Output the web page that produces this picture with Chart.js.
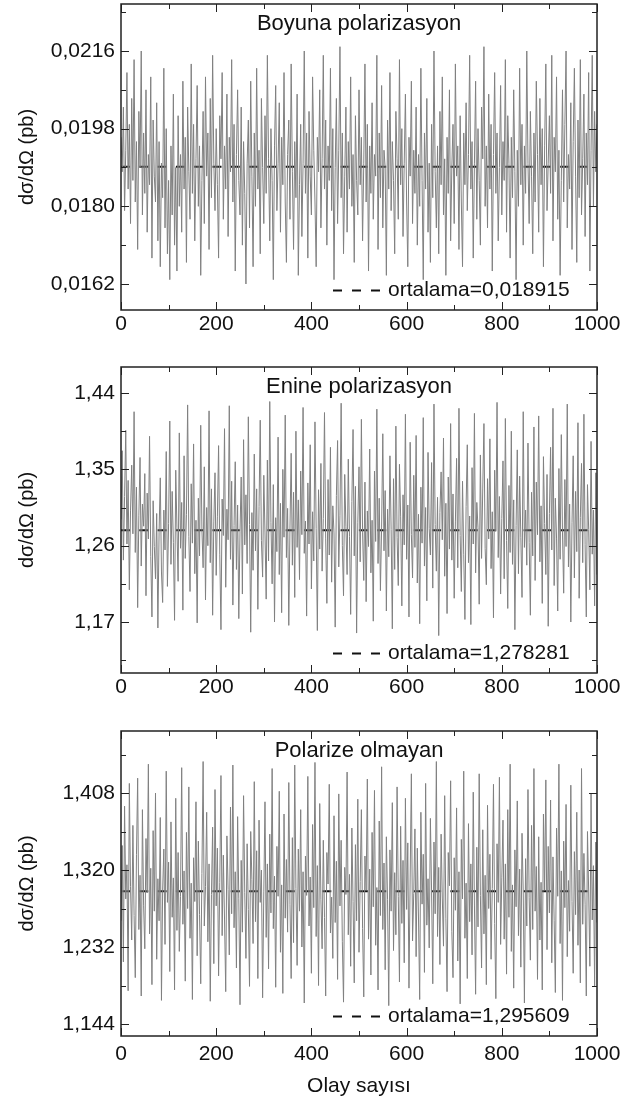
<!DOCTYPE html>
<html>
<head>
<meta charset="utf-8">
<script src="https://cdn.jsdelivr.net/npm/chart.js@4.4.1/dist/chart.umd.min.js"></script>
<style>
  body { margin: 0; background: #fff; width: 622px; height: 1106px; position: relative; overflow: hidden; }
  canvas { position: absolute; left: 0; }
</style>
</head>
<body>
<canvas id="c1" width="622" height="345" style="top:0px"></canvas>
<canvas id="c2" width="622" height="355" style="top:350px"></canvas>
<canvas id="c3" width="622" height="393" style="top:713px"></canvas>
<script>
// olay sayisi adimi (0..1000)
const step = 2.5;

const boyuna = [
  0.0196,0.0188,0.0203,0.0179,0.0193,0.0211,0.0184,0.0199,0.0176,0.0205,
  0.0186,0.0214,0.0181,0.0195,0.0170,0.0202,0.0189,0.0216,0.0178,0.0197,
  0.0183,0.0207,0.0174,0.0192,0.0185,0.0210,0.0168,0.0200,0.0187,0.0181,
  0.0204,0.0172,0.0195,0.0166,0.0190,0.0182,0.0212,0.0175,0.0198,0.0169,
  0.0186,0.0163,0.0194,0.0178,0.0206,0.0171,0.0189,0.0165,0.0201,0.0180,
  0.0192,0.0174,0.0209,0.0184,0.0196,0.0167,0.0203,0.0188,0.0177,0.0213,
  0.0183,0.0199,0.0172,0.0191,0.0208,0.0180,0.0194,0.0164,0.0186,0.0202,
  0.0176,0.0210,0.0187,0.0197,0.0170,0.0205,0.0182,0.0215,0.0190,0.0179,
  0.0198,0.0185,0.0168,0.0201,0.0191,0.0211,0.0177,0.0194,0.0184,0.0206,
  0.0173,0.0196,0.0188,0.0214,0.0181,0.0199,0.0165,0.0192,0.0207,0.0186,
  0.0178,0.0203,0.0171,0.0195,0.0183,0.0162,0.0190,0.0200,0.0175,0.0209,
  0.0187,0.0166,0.0197,0.0180,0.0212,0.0184,0.0193,0.0169,0.0205,0.0189,
  0.0176,0.0201,0.0183,0.0215,0.0191,0.0172,0.0198,0.0186,0.0163,0.0194,
  0.0208,0.0179,0.0190,0.0204,0.0174,0.0196,0.0185,0.0211,0.0181,0.0167,
  0.0192,0.0200,0.0177,0.0213,0.0188,0.0170,0.0195,0.0182,0.0206,0.0164,
  0.0185,0.0199,0.0173,0.0190,0.0216,0.0183,0.0197,0.0168,0.0202,0.0187,
  0.0178,0.0210,0.0193,0.0181,0.0166,0.0196,0.0188,0.0207,0.0175,0.0191,
  0.0215,0.0184,0.0200,0.0171,0.0194,0.0186,0.0212,0.0179,0.0198,0.0163,
  0.0189,0.0205,0.0176,0.0193,0.0217,0.0182,0.0197,0.0169,0.0187,0.0203,
  0.0174,0.0195,0.0184,0.0210,0.0180,0.0192,0.0167,0.0201,0.0186,0.0178,
  0.0207,0.0185,0.0196,0.0172,0.0190,0.0213,0.0181,0.0199,0.0165,0.0194,
  0.0183,0.0204,0.0177,0.0192,0.0187,0.0215,0.0170,0.0197,0.0182,0.0208,
  0.0175,0.0193,0.0189,0.0164,0.0200,0.0184,0.0211,0.0179,0.0195,0.0186,
  0.0169,0.0202,0.0191,0.0177,0.0214,0.0185,0.0198,0.0173,0.0190,0.0206,
  0.0181,0.0166,0.0196,0.0187,0.0209,0.0176,0.0193,0.0183,0.0203,0.0171,
  0.0192,0.0180,0.0212,0.0186,0.0163,0.0197,0.0184,0.0205,0.0174,0.0190,
  0.0167,0.0199,0.0182,0.0216,0.0188,0.0175,0.0194,0.0169,0.0202,0.0185,
  0.0210,0.0178,0.0191,0.0164,0.0196,0.0183,0.0207,0.0172,0.0189,0.0199,
  0.0176,0.0213,0.0187,0.0194,0.0170,0.0201,0.0181,0.0166,0.0197,0.0185,
  0.0204,0.0179,0.0192,0.0215,0.0184,0.0195,0.0168,0.0190,0.0209,0.0177,
  0.0198,0.0186,0.0171,0.0203,0.0191,0.0217,0.0180,0.0194,0.0175,0.0206,
  0.0184,0.0199,0.0165,0.0192,0.0211,0.0183,0.0197,0.0172,0.0189,0.0208,
  0.0178,0.0195,0.0186,0.0214,0.0174,0.0201,0.0190,0.0168,0.0196,0.0182,
  0.0207,0.0188,0.0163,0.0193,0.0180,0.0212,0.0185,0.0199,0.0171,0.0194,
  0.0183,0.0216,0.0190,0.0176,0.0202,0.0187,0.0169,0.0197,0.0181,0.0209,
  0.0192,0.0174,0.0205,0.0185,0.0198,0.0166,0.0194,0.0213,0.0179,0.0190,
  0.0201,0.0183,0.0215,0.0172,0.0196,0.0188,0.0210,0.0177,0.0193,0.0164,
  0.0186,0.0207,0.0181,0.0199,0.0216,0.0175,0.0192,0.0184,0.0204,0.0170,
  0.0195,0.0212,0.0187,0.0167,0.0200,0.0182,0.0214,0.0178,0.0191,0.0206,
  0.0173,0.0197,0.0185,0.0211,0.0165,0.0193,0.0215,0.0180,0.0202,0.0188,
  0.0199
];

const enine = [
  1.291,1.372,1.243,1.318,1.396,1.262,1.337,1.208,1.301,1.355,
  1.274,1.418,1.252,1.329,1.187,1.296,1.364,1.236,1.309,1.283,
  1.345,1.201,1.322,1.268,1.389,1.247,1.176,1.313,1.259,1.221,
  1.298,1.163,1.276,1.340,1.229,1.193,1.302,1.255,1.371,1.212,
  1.286,1.407,1.238,1.324,1.264,1.172,1.349,1.281,1.218,1.393,
  1.257,1.311,1.184,1.366,1.245,1.297,1.426,1.271,1.206,1.333,
  1.263,1.380,1.227,1.290,1.169,1.316,1.248,1.402,1.279,1.234,
  1.353,1.196,1.305,1.260,1.419,1.240,1.327,1.178,1.288,1.346,
  1.225,1.294,1.378,1.250,1.161,1.315,1.272,1.398,1.211,1.303,
  1.267,1.425,1.244,1.336,1.190,1.284,1.359,1.232,1.308,1.174,
  1.277,1.341,1.203,1.385,1.261,1.320,1.239,1.412,1.285,1.158,
  1.299,1.231,1.368,1.254,1.327,1.185,1.306,1.408,1.266,1.223,
  1.343,1.275,1.197,1.361,1.242,1.430,1.287,1.215,1.332,1.170,
  1.293,1.253,1.388,1.226,1.310,1.181,1.350,1.270,1.414,1.246,
  1.304,1.166,1.282,1.369,1.237,1.323,1.199,1.395,1.258,1.314,
  1.220,1.348,1.273,1.423,1.251,1.289,1.177,1.334,1.262,1.379,
  1.209,1.300,1.242,1.406,1.280,1.160,1.326,1.256,1.357,1.230,
  1.292,1.417,1.268,1.192,1.338,1.249,1.376,1.217,1.307,1.275,
  1.164,1.319,1.384,1.235,1.296,1.428,1.260,1.201,1.344,1.283,
  1.226,1.362,1.271,1.179,1.312,1.397,1.248,1.330,1.157,1.287,
  1.353,1.241,1.409,1.276,1.219,1.335,1.194,1.301,1.259,1.374,
  1.228,1.290,1.171,1.348,1.265,1.421,1.239,1.316,1.207,1.282,
  1.392,1.254,1.325,1.183,1.303,1.247,1.366,1.279,1.162,1.339,
  1.232,1.401,1.270,1.213,1.356,1.294,1.189,1.320,1.261,1.415,
  1.244,1.308,1.176,1.382,1.273,1.222,1.343,1.258,1.390,1.216,
  1.297,1.168,1.329,1.263,1.411,1.236,1.305,1.195,1.370,1.280,
  1.249,1.358,1.210,1.427,1.285,1.230,1.317,1.154,1.299,1.347,
  1.267,1.387,1.224,1.310,1.180,1.341,1.256,1.404,1.243,1.321,
  1.198,1.288,1.363,1.234,1.422,1.272,1.206,1.336,1.250,1.173,
  1.306,1.379,1.240,1.295,1.167,1.352,1.262,1.416,1.228,1.311,
  1.281,1.191,1.367,1.245,1.328,1.404,1.257,1.214,1.339,1.268,
  1.386,1.233,1.300,1.175,1.349,1.277,1.429,1.246,1.318,1.203,
  1.292,1.360,1.221,1.410,1.266,1.186,1.331,1.252,1.395,1.238,
  1.314,1.161,1.284,1.373,1.227,1.342,1.270,1.199,1.418,1.258,
  1.302,1.237,1.381,1.264,1.178,1.323,1.248,1.400,1.219,1.335,
  1.273,1.413,1.241,1.307,1.192,1.365,1.286,1.226,1.344,1.165,
  1.298,1.376,1.255,1.422,1.213,1.316,1.269,1.183,1.351,1.244,
  1.391,1.275,1.204,1.338,1.259,1.427,1.235,1.309,1.170,1.287,
  1.366,1.222,1.324,1.253,1.405,1.198,1.293,1.357,1.240,1.415,
  1.261,1.176,1.332,1.279,1.208,1.383,1.250,1.302,1.189,1.346,
  1.226
];

const polarizeOlmayan = [
  1.262,1.348,1.215,1.393,1.287,1.326,1.182,1.419,1.301,1.240,
  1.371,1.268,1.197,1.338,1.425,1.252,1.314,1.176,1.389,1.279,
  1.230,1.356,1.294,1.441,1.247,1.322,1.189,1.365,1.273,1.408,
  1.218,1.310,1.262,1.380,1.171,1.297,1.344,1.235,1.433,1.283,
  1.329,1.204,1.375,1.266,1.311,1.183,1.402,1.251,1.340,1.227,
  1.290,1.437,1.258,1.319,1.193,1.363,1.276,1.415,1.242,1.305,
  1.172,1.334,1.284,1.398,1.222,1.353,1.269,1.190,1.316,1.444,
  1.256,1.301,1.386,1.238,1.327,1.170,1.292,1.369,1.213,1.412,
  1.279,1.345,1.199,1.306,1.428,1.245,1.337,1.264,1.181,1.359,
  1.298,1.223,1.392,1.270,1.440,1.254,1.318,1.208,1.381,1.287,
  1.166,1.331,1.249,1.405,1.294,1.219,1.350,1.275,1.187,1.364,
  1.309,1.236,1.421,1.261,1.342,1.196,1.377,1.283,1.320,1.174,
  1.295,1.398,1.243,1.327,1.207,1.361,1.271,1.436,1.253,1.313,
  1.186,1.347,1.290,1.410,1.226,1.303,1.179,1.384,1.265,1.332,
  1.249,1.420,1.281,1.196,1.357,1.237,1.440,1.299,1.211,1.344,
  1.273,1.389,1.232,1.318,1.168,1.336,1.291,1.427,1.256,1.312,
  1.202,1.372,1.277,1.443,1.244,1.325,1.188,1.396,1.286,1.230,
  1.354,1.266,1.176,1.340,1.304,1.418,1.248,1.289,1.219,1.382,
  1.260,1.330,1.195,1.407,1.279,1.354,1.238,1.169,1.323,1.292,
  1.432,1.246,1.315,1.210,1.368,1.284,1.191,1.349,1.262,1.401,
  1.226,1.307,1.389,1.253,1.175,1.336,1.297,1.424,1.241,1.321,
  1.200,1.363,1.278,1.411,1.234,1.300,1.183,1.376,1.268,1.438,
  1.252,1.328,1.206,1.358,1.286,1.165,1.343,1.273,1.397,1.228,
  1.317,1.246,1.415,1.290,1.192,1.370,1.259,1.331,1.214,1.402,
  1.275,1.351,1.185,1.312,1.430,1.239,1.293,1.367,1.221,1.345,
  1.264,1.172,1.386,1.281,1.338,1.203,1.419,1.257,1.310,1.231,
  1.379,1.296,1.190,1.352,1.270,1.444,1.244,1.323,1.212,1.361,
  1.288,1.233,1.405,1.265,1.181,1.340,1.302,1.422,1.250,1.197,
  1.334,1.274,1.391,1.216,1.318,1.167,1.355,1.287,1.433,1.242,
  1.305,1.196,1.373,1.261,1.327,1.223,1.409,1.280,1.178,1.346,
  1.255,1.430,1.291,1.208,1.366,1.247,1.314,1.189,1.394,1.276,
  1.338,1.218,1.299,1.418,1.259,1.173,1.350,1.283,1.426,1.235,
  1.311,1.377,1.241,1.327,1.201,1.389,1.266,1.441,1.227,1.303,
  1.185,1.343,1.278,1.399,1.245,1.321,1.209,1.362,1.295,1.168,
  1.333,1.256,1.412,1.289,1.217,1.371,1.252,1.436,1.273,1.324,
  1.195,1.358,1.240,1.306,1.183,1.384,1.297,1.423,1.229,1.347,
  1.271,1.400,1.214,1.335,1.262,1.180,1.368,1.290,1.441,1.236,
  1.319,1.171,1.353,1.277,1.395,1.221,1.308,1.250,1.417,1.284,
  1.202,1.341,1.269,1.386,1.234,1.320,1.191,1.436,1.258,1.339,
  1.281,1.176,1.364,1.296,1.210,1.407,1.263,1.325,1.187,1.352,
  1.260
];

const ortalama = [0.018915, 1.278281, 1.295609];
const basliklar = ['Boyuna polarizasyon', 'Enine polarizasyon', 'Polarize olmayan'];

const xTicks = [0, 200, 400, 600, 800, 1000];
const xLabels = ['0', '200', '400', '600', '800', '1000'];
const xMinor = [100, 300, 500, 700, 900];

const yTicks1 = [0.0162, 0.0180, 0.0198, 0.0216];
const yLabels1 = ['0,0162', '0,0180', '0,0198', '0,0216'];
const yMinor1 = [0.0171, 0.0189, 0.0207, 0.0225];

const yTicks2 = [1.17, 1.26, 1.35, 1.44];
const yLabels2 = ['1,17', '1,26', '1,35', '1,44'];
const yMinor2 = [1.125, 1.215, 1.305, 1.395];

const yTicks3 = [1.144, 1.232, 1.320, 1.408];
const yLabels3 = ['1,144', '1,232', '1,320', '1,408'];
const yMinor3 = [1.188, 1.276, 1.364, 1.452];

const FONT = 'Liberation Sans, Arial, sans-serif';

const framePlugin = {
  id: 'frame',
  afterDatasetsDraw(chart, args, o) {
    const { ctx, chartArea: a, scales: { x, y } } = chart;
    ctx.save();
    ctx.strokeStyle = '#222';
    ctx.lineWidth = 1;
    const xt = (vals, len) => vals.forEach(v => {
      const px = Math.round(x.getPixelForValue(v)) + 0.5;
      ctx.beginPath();
      ctx.moveTo(px, a.bottom); ctx.lineTo(px, a.bottom - len);
      ctx.moveTo(px, a.top); ctx.lineTo(px, a.top + len);
      ctx.stroke();
    });
    const yt = (vals, len) => vals.forEach(v => {
      if (v > y.max || v < y.min) return;
      const py = Math.round(y.getPixelForValue(v)) + 0.5;
      ctx.beginPath();
      ctx.moveTo(a.left, py); ctx.lineTo(a.left + len, py);
      ctx.moveTo(a.right, py); ctx.lineTo(a.right - len, py);
      ctx.stroke();
    });
    xt(xTicks, 8); xt(xMinor, 5);
    yt(o.yMajor, 8); yt(o.yMinor, 5);
    ctx.lineWidth = 1.5;
    ctx.strokeRect(a.left, a.top, a.width, a.height);

    ctx.fillStyle = '#111';
    ctx.font = '22px ' + FONT;
    ctx.textAlign = 'center';
    ctx.textBaseline = 'middle';
    ctx.fillText(o.title, (a.left + a.right) / 2, a.top + 19.5);

    // lejant
    const ly = a.bottom - 19.5;
    ctx.font = '21px ' + FONT;
    ctx.lineWidth = 2;
    ctx.strokeStyle = '#111';
    ctx.setLineDash([9, 10]);
    ctx.beginPath();
    ctx.moveTo(a.right - 264, ly); ctx.lineTo(a.right - 216, ly);
    ctx.stroke();
    ctx.setLineDash([]);
    ctx.textAlign = 'left';
    ctx.fillText(o.legend, a.right - 209, ly);
    ctx.restore();
  }
};

function makeChart(id, values, mean, idx, yMin, yMax, yTicks, yLabels, yMinor, padTop, xHeight, xPad, xTitle) {
  const pts = values.map((v, i) => ({ x: i * step, y: v }));
  new Chart(document.getElementById(id), {
    type: 'line',
    data: {
      datasets: [
        {
          data: pts,
          borderColor: '#808080',
          borderWidth: 1,
          pointRadius: 0,
          tension: 0
        },
        {
          data: [{ x: 0, y: mean }, { x: 1000, y: mean }],
          borderColor: '#111',
          borderWidth: 2,
          borderDash: [9, 9.3],
          pointRadius: 0
        }
      ]
    },
    options: {
      responsive: false,
      animation: false,
      layout: { padding: { top: padTop, right: 25, left: 0, bottom: 0 } },
      plugins: {
        legend: { display: false },
        tooltip: { enabled: false },
        frame: {
          title: basliklar[idx],
          legend: 'ortalama=' + String(mean).replace('.', ','),
          yMajor: yTicks,
          yMinor: yMinor
        }
      },
      scales: {
        x: {
          type: 'linear',
          min: 0,
          max: 1000,
          grid: { display: false, drawTicks: false },
          border: { display: false },
          afterBuildTicks: s => { s.ticks = xTicks.map(v => ({ value: v })); },
          afterFit: s => { s.height = xHeight; s.paddingLeft = 0; s.paddingRight = 0; },
          ticks: {
            padding: xPad,
            maxRotation: 0,
            color: '#111',
            font: { family: FONT, size: 21 },
            callback: (v, i) => xLabels[i]
          },
          title: {
            display: !!xTitle,
            text: xTitle || '',
            color: '#111',
            font: { family: FONT, size: 21 },
            padding: { top: 0, bottom: 7 }
          }
        },
        y: {
          min: yMin,
          max: yMax,
          grid: { display: false, drawTicks: false },
          border: { display: false },
          afterBuildTicks: s => { s.ticks = yTicks.map(v => ({ value: v })); },
          afterFit: s => { s.width = 121; s.paddingTop = 0; s.paddingBottom = 0; },
          ticks: {
            padding: 6,
            color: '#111',
            font: { family: FONT, size: 21 },
            callback: (v, i) => yLabels[i]
          },
          title: {
            display: true,
            text: 'dσ/dΩ (pb)',
            color: '#111',
            font: { family: FONT, size: 20 },
            padding: { top: 15, bottom: 0 }
          }
        }
      }
    },
    plugins: [framePlugin]
  });
}

makeChart('c1', boyuna, ortalama[0], 0, 0.015597, 0.022689, yTicks1, yLabels1, yMinor1, 4, 35, 2, null);
makeChart('c2', enine, ortalama[1], 1, 1.1099, 1.4707, yTicks2, yLabels2, yMinor2, 17, 32, 2, null);
makeChart('c3', polarizeOlmayan, ortalama[2], 2, 1.1303, 1.4789, yTicks3, yLabels3, yMinor3, 18, 70, 6, 'Olay sayısı');
</script>
</body>
</html>
